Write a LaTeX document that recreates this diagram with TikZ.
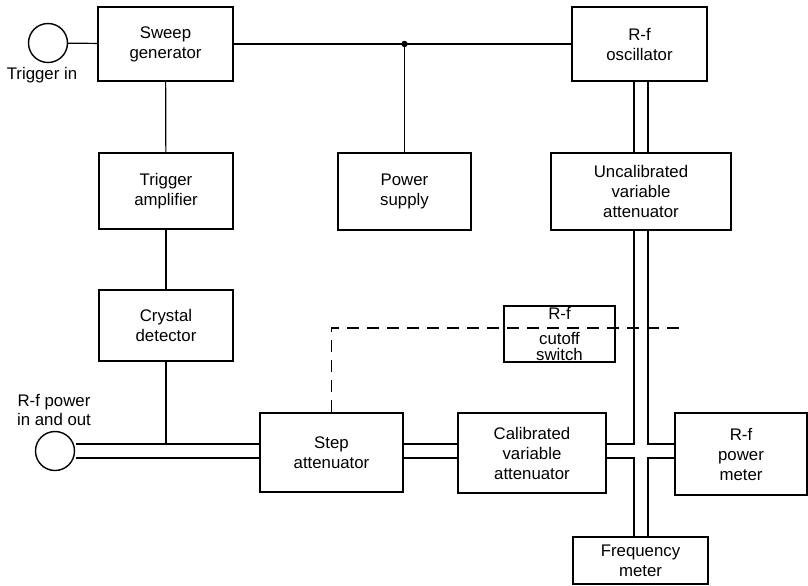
\documentclass[tikz,border=0pt]{standalone}
\usepackage{fontspec}
\setmainfont{Liberation Sans}
\usetikzlibrary{calc}
\tikzset{
  unit/.style={draw,line width=0.7pt,align=center,inner sep=0pt,font=\fontsize{8.4}{10}\selectfont},
  lead/.style={line width=0.6pt},
  guide/.style={line width=0.6pt,double,double distance=6.4pt,shorten <=0.35pt,shorten >=0.35pt},
  ctrl/.style={line width=0.6pt,dash pattern=on 6pt off 4pt},
  port/.style={draw,circle,line width=0.7pt,minimum size=19.5pt,inner sep=0pt},
  caption/.style={align=center,inner sep=0pt,font=\fontsize{8.4}{9.5}\selectfont}
}

\begin{document}
\begin{tikzpicture}[x=0.5pt,y=-0.5pt]
\useasboundingbox (0,0) rectangle (808,585);
% top row
\node[port] (trigin) at (48,43) {};
\node[caption] (trigcap) at (42,75) {Trigger in};
\node[unit,minimum width=67.5pt,minimum height=37pt] (sweep) at (165.5,44) {Sweep\\generator};
\node[unit,minimum width=67.5pt,minimum height=37pt] (osc) at (639.5,44) {R-f\\oscillator};
% middle row
\node[unit,minimum width=67pt,minimum height=38pt] (trigamp) at (166,191) {Trigger\\amplifier};
\node[unit,minimum width=66.5pt,minimum height=38.5pt] (power) at (404.5,191.5) {Power\\supply};
\node[unit,minimum width=90pt,minimum height=38.5pt] (uncal) at (641,191.5) {Uncalibrated\\variable\\attenuator};
\node[unit,minimum width=67pt,minimum height=35.5pt] (crystal) at (166,325.5) {Crystal\\detector};
\node[unit,minimum width=55.5pt,minimum height=28pt,font=\fontsize{8.4}{7.8}\selectfont] (cutoff) at (559.5,334) {R-f\\[4.5pt]cutoff\\switch};
% bottom row
\node[port] (rfport) at (55,451) {};
\node[caption] (portcap) at (54,410) {R-f power\\in and out};
\node[unit,minimum width=71.5pt,minimum height=39.5pt] (step) at (331.5,452.5) {Step\\attenuator};
\node[unit,minimum width=74pt,minimum height=40pt] (calib) at (532,453) {Calibrated\\variable\\attenuator};
\node[unit,minimum width=66pt,minimum height=41pt] (pwrmeter) at (741,454) {R-f\\power\\meter};
\node[unit,minimum width=67.5pt,minimum height=23.5pt] (freq) at (640.5,560.5) {Frequency\\meter};
\coordinate (hub) at (641,451);
\coordinate (wgtop) at (0,444);
\coordinate (dashy) at (0,328);
\coordinate (dashend) at (682,328);

% single leads
\draw[lead] (trigin) -- (sweep);
\draw[lead] (sweep) -- (osc);
\draw[lead] (power.north) -- (power.north |- sweep.east) coordinate (tap);
\fill (tap) circle (1.6pt);
\draw[lead] (sweep) -- (trigamp);
\draw[lead] (trigamp) -- (crystal);
\draw[lead] (crystal.south) -- (crystal.south |- wgtop);

% waveguide runs
\draw[guide] (rfport.east) -- (step.west |- rfport);
\draw[guide] (step.east |- rfport) -- (calib.west |- rfport);
\draw[guide] (osc.south -| hub) -- (uncal.north -| hub);
\draw[guide] (uncal.south -| hub) -- (freq.north -| hub);
\draw[guide] (calib.east |- hub) -- (pwrmeter.west |- hub);
\fill[white] ($(hub)+(-7.8,-6.4)$) rectangle ($(hub)+(7.8,6.4)$);
\fill[white] ($(hub)+(-6.4,-7.8)$) rectangle ($(hub)+(6.4,7.8)$);

% cutoff control
\draw[ctrl] (step.north) -- (step.north |- dashy) -- (dashend);
\end{tikzpicture}
\end{document}
